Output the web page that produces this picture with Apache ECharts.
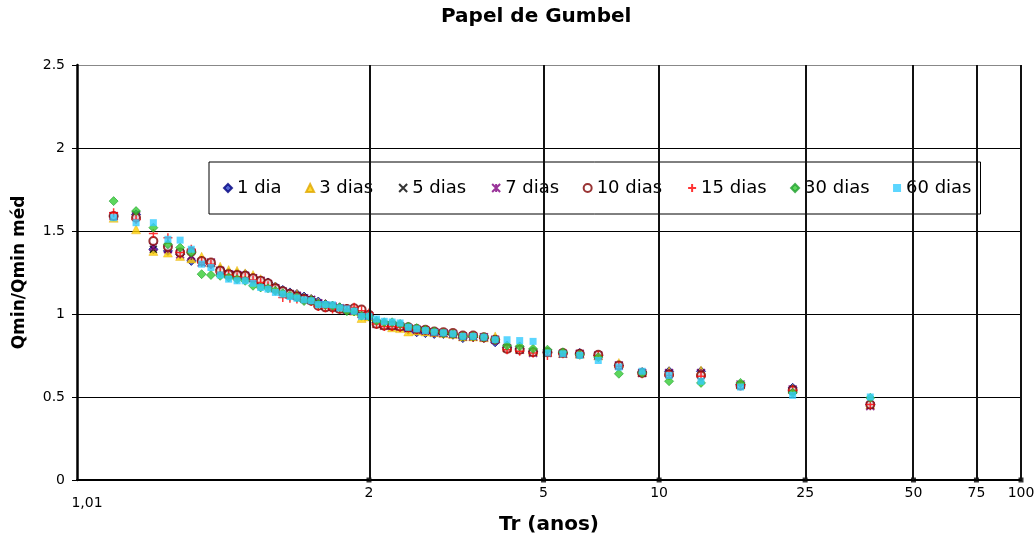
<!DOCTYPE html>
<html>
<head>
<meta charset="utf-8">
<script src="https://cdn.jsdelivr.net/npm/echarts@6/dist/echarts.min.js"></script>
<style>
html,body{margin:0;padding:0;background:#fff;}
#chart{width:1036px;height:536px;}
</style>
</head>
<body>
<div id="chart"></div>
<script>
// Return periods (plotting positions) of the ranked values, left to right
const trValues = [1.027, 1.045, 1.064, 1.084, 1.104, 1.125, 1.147, 1.169, 1.193, 1.217,
  1.243, 1.270, 1.298, 1.327, 1.357, 1.389, 1.423, 1.458, 1.494, 1.533,
  1.574, 1.617, 1.663, 1.711, 1.762, 1.816, 1.873, 1.935, 2.000, 2.070,
  2.145, 2.226, 2.313, 2.407, 2.509, 2.621, 2.742, 2.875, 3.022, 3.185,
  3.367, 3.570, 3.799, 4.060, 4.360, 4.707, 5.114, 5.598, 6.184, 6.907,
  7.820, 9.012, 10.633, 12.965, 16.607, 23.094, 37.897];

// Qmin/Qmin méd per duration
const dia1 = [1.59, 1.60, 1.39, 1.38, 1.36, 1.32, 1.32, 1.30, 1.27, 1.25,
  1.245, 1.24, 1.22, 1.20, 1.19, 1.165, 1.145, 1.13, 1.12, 1.105,
  1.09, 1.075, 1.06, 1.05, 1.04, 1.03, 1.02, 1.00, 0.99, 0.95,
  0.94, 0.93, 0.925, 0.905, 0.89, 0.885, 0.88, 0.88, 0.875, 0.855,
  0.86, 0.855, 0.83, 0.80, 0.79, 0.775, 0.77, 0.765, 0.765, 0.75,
  0.69, 0.65, 0.655, 0.655, 0.575, 0.555, 0.455];
const dias3 = [1.58, 1.51, 1.38, 1.37, 1.35, 1.335, 1.345, 1.31, 1.285, 1.265,
  1.26, 1.245, 1.235, 1.21, 1.185, 1.165, 1.14, 1.125, 1.12, 1.10,
  1.09, 1.07, 1.06, 1.05, 1.04, 1.03, 1.02, 0.976, 0.985, 0.945,
  0.935, 0.92, 0.915, 0.895, 0.90, 0.895, 0.89, 0.885, 0.88, 0.865,
  0.865, 0.86, 0.865, 0.80, 0.79, 0.775, 0.77, 0.765, 0.76, 0.75,
  0.705, 0.65, 0.655, 0.66, 0.575, 0.55, 0.455];
const dias5 = [1.59, 1.60, 1.39, 1.39, 1.37, 1.35, 1.31, 1.305, 1.26, 1.24,
  1.235, 1.23, 1.215, 1.20, 1.18, 1.155, 1.135, 1.12, 1.11, 1.095,
  1.085, 1.065, 1.05, 1.045, 1.035, 1.025, 1.02, 1.00, 0.99, 0.945,
  0.935, 0.93, 0.925, 0.915, 0.905, 0.90, 0.89, 0.885, 0.88, 0.865,
  0.865, 0.86, 0.845, 0.795, 0.785, 0.77, 0.765, 0.76, 0.76, 0.75,
  0.69, 0.645, 0.645, 0.645, 0.57, 0.545, 0.45];
const dias7 = [1.59, 1.59, 1.405, 1.39, 1.36, 1.35, 1.31, 1.31, 1.26, 1.24,
  1.235, 1.23, 1.215, 1.20, 1.18, 1.155, 1.135, 1.12, 1.11, 1.095,
  1.085, 1.065, 1.05, 1.045, 1.035, 1.025, 1.02, 1.00, 0.99, 0.94,
  0.93, 0.93, 0.925, 0.915, 0.905, 0.90, 0.89, 0.885, 0.88, 0.865,
  0.865, 0.86, 0.845, 0.795, 0.785, 0.765, 0.765, 0.76, 0.76, 0.75,
  0.69, 0.645, 0.645, 0.645, 0.575, 0.545, 0.445];
const dias10 = [1.59, 1.58, 1.44, 1.405, 1.37, 1.375, 1.32, 1.31, 1.26, 1.24,
  1.235, 1.23, 1.215, 1.20, 1.185, 1.155, 1.137, 1.12, 1.105, 1.09,
  1.08, 1.05, 1.04, 1.04, 1.03, 1.03, 1.035, 1.027, 0.995, 0.94,
  0.93, 0.93, 0.925, 0.92, 0.91, 0.905, 0.895, 0.89, 0.885, 0.87,
  0.87, 0.86, 0.845, 0.79, 0.785, 0.77, 0.77, 0.765, 0.76, 0.755,
  0.69, 0.645, 0.635, 0.63, 0.57, 0.54, 0.455];
const dias15 = [1.61, 1.57, 1.485, 1.46, 1.37, 1.39, 1.31, 1.30, 1.25, 1.235,
  1.225, 1.22, 1.205, 1.19, 1.17, 1.145, 1.10, 1.095, 1.09, 1.085,
  1.075, 1.045, 1.037, 1.03, 1.03, 1.025, 1.04, 1.02, 1.006, 0.94,
  0.925, 0.925, 0.92, 0.915, 0.905, 0.90, 0.89, 0.885, 0.88, 0.865,
  0.86, 0.855, 0.845, 0.785, 0.775, 0.765, 0.75, 0.76, 0.755, 0.75,
  0.685, 0.64, 0.63, 0.625, 0.575, 0.54, 0.455];
const dias30 = [1.68, 1.62, 1.52, 1.42, 1.40, 1.37, 1.24, 1.235, 1.23, 1.22,
  1.21, 1.20, 1.17, 1.16, 1.155, 1.14, 1.125, 1.11, 1.10, 1.078,
  1.083, 1.06, 1.055, 1.05, 1.04, 1.017, 1.015, 0.99, 0.985, 0.96,
  0.95, 0.95, 0.94, 0.925, 0.915, 0.905, 0.895, 0.885, 0.88, 0.865,
  0.865, 0.86, 0.845, 0.81, 0.805, 0.79, 0.785, 0.77, 0.755, 0.74,
  0.64, 0.645, 0.595, 0.585, 0.585, 0.525, 0.495];
const dias60 = [1.58, 1.55, 1.55, 1.45, 1.445, 1.39, 1.30, 1.28, 1.235, 1.21,
  1.20, 1.20, 1.185, 1.16, 1.15, 1.13, 1.12, 1.105, 1.095, 1.085,
  1.08, 1.057, 1.057, 1.055, 1.037, 1.031, 1.017, 0.986, 0.986, 0.97,
  0.956, 0.952, 0.946, 0.92, 0.91, 0.90, 0.89, 0.886, 0.88, 0.865,
  0.865, 0.86, 0.845, 0.845, 0.84, 0.835, 0.765, 0.76, 0.75, 0.72,
  0.68, 0.655, 0.63, 0.595, 0.56, 0.51, 0.50];

const seriesNames = ['1 dia', '3 dias', '5 dias', '7 dias', '10 dias', '15 dias', '30 dias', '60 dias'];
const seriesValues = [dia1, dias3, dias5, dias7, dias10, dias15, dias30, dias60];

// Gumbel paper x-axis ticks (return period, years)
const tickTr = [1.01, 2, 5, 10, 25, 50, 75, 100];
const tickText = ['1,01', '2', '5', '10', '25', '50', '75', '100'];

const FONT = 'DejaVu Sans';

// Gumbel reduced variate: the scale of Gumbel probability paper
function gumbel(t) { return -Math.log(-Math.log(1 - 1 / t)); }

const tickPos = tickTr.map(gumbel);

const styles = [
  { symbol: 'diamond', symbolSize: 9, itemStyle: { color: '#2841c8', borderColor: '#000080', borderWidth: 1 } },
  { symbol: 'triangle', symbolSize: 9, itemStyle: { color: '#ffd000', borderColor: '#e0a800', borderWidth: 0.5 } },
  { symbol: 'path://M0,0L10,10M10,0L0,10', symbolSize: 7, itemStyle: { color: 'none', borderColor: '#000000', borderWidth: 1.5 } },
  { symbol: 'path://M0,0L10,10M10,0L0,10M5,0L5,10', symbolSize: 8, itemStyle: { color: 'none', borderColor: '#800080', borderWidth: 1.5 } },
  { symbol: 'emptyCircle', symbolSize: 8, itemStyle: { color: '#800000', borderColor: '#800000', borderWidth: 1.5 } },
  { symbol: 'path://M5,0L5,10M0,5L10,5', symbolSize: 9, itemStyle: { color: 'none', borderColor: '#ff0000', borderWidth: 1.5 } },
  { symbol: 'diamond', symbolSize: 9, itemStyle: { color: '#33cc33', borderColor: '#22a030', borderWidth: 0.8 } },
  { symbol: 'rect', symbolSize: 7, itemStyle: { color: '#33ccff' } }
];

const series = [];
// helper: vertical grid lines at the return-period ticks + small markers on the axis
series.push({
  name: 'grade',
  type: 'scatter',
  z: 1,
  clip: false,
  silent: true,
  symbol: 'rect',
  symbolSize: 5,
  itemStyle: { color: '#000' },
  data: tickPos.slice(1).map(function (x) { return [x, 0]; }),
  markLine: {
    silent: true,
    symbol: ['none', 'none'],
    label: { show: false },
    lineStyle: { color: '#111', width: 2, type: 'solid' },
    animation: false,
    data: tickPos.slice(1).map(function (x) { return { xAxis: x }; })
  }
});

seriesNames.forEach(function (name, i) {
  const vals = seriesValues[i];
  series.push(Object.assign({
    name: name,
    type: 'scatter',
    z: 3,
    data: trValues.map(function (t, k) { return [gumbel(t), vals[k]]; })
  }, styles[i]));
});

const chart = echarts.init(document.getElementById('chart'), null, { renderer: 'canvas' });
chart.setOption({
  animation: false,
  backgroundColor: '#ffffff',
  textStyle: { fontFamily: FONT },
  title: {
    text: 'Papel de Gumbel',
    left: 441,
    top: 7,
    padding: 0,
    textStyle: { fontFamily: FONT, fontSize: 20, fontWeight: 'bold', color: '#000' }
  },
  legend: {
    data: seriesNames,
    orient: 'horizontal',
    left: 209,
    top: 162,
    padding: [17, 9, 17, 14],
    itemGap: 23.5,
    itemWidth: 8,
    itemHeight: 8,
    backgroundColor: '#ffffff',
    borderColor: '#000000',
    borderWidth: 1,
    borderRadius: 0,
    textStyle: { fontFamily: FONT, fontSize: 18, color: '#000' }
  },
  grid: { left: 77, right: 15, top: 65, bottom: 56, containLabel: false, outerBoundsMode: 'none' },
  xAxis: {
    type: 'value',
    min: tickPos[0],
    max: tickPos[tickPos.length - 1],
    name: 'Tr (anos)',
    nameLocation: 'middle',
    nameGap: 30,
    nameTextStyle: { fontFamily: FONT, fontSize: 20, fontWeight: 'bold', color: '#000' },
    axisLine: { show: true, onZero: false, lineStyle: { color: '#000', width: 2 } },
    axisTick: { show: false },
    splitLine: { show: false },
    axisLabel: {
      customValues: tickPos,
      showMinLabel: true,
      showMaxLabel: true,
      margin: 6,
      fontFamily: FONT,
      fontSize: 14,
      color: '#000',
      formatter: function (v) {
        let idx = 0, best = Infinity;
        tickPos.forEach(function (p, i) { const d = Math.abs(p - v); if (d < best) { best = d; idx = i; } });
        return idx === 0 ? '{f|' + tickText[0] + '}' : tickText[idx];
      },
      rich: { f: { fontFamily: FONT, fontSize: 14, color: '#000', padding: [10, 0, 0, 20] } }
    }
  },
  yAxis: {
    type: 'value',
    min: 0,
    max: 2.5,
    interval: 0.5,
    name: 'Qmin/Qmin méd',
    nameLocation: 'middle',
    nameGap: 49,
    nameTextStyle: { fontFamily: FONT, fontSize: 17, fontWeight: 'bold', color: '#000' },
    axisLine: { show: true, onZero: false, lineStyle: { color: '#000', width: 2.5 } },
    axisTick: { show: true, length: 5, lineStyle: { color: '#000', width: 1 } },
    axisLabel: { margin: 12, fontFamily: FONT, fontSize: 14, color: '#000' },
    splitLine: { show: true, lineStyle: { color: ['#000', '#000', '#000', '#000', '#000', '#888'], width: 1 } }
  },
  series: series
});
</script>
</body>
</html>
